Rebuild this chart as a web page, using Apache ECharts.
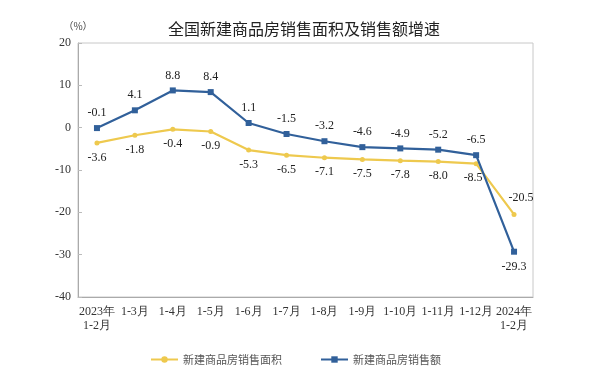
<!DOCTYPE html>
<html><head><meta charset="utf-8">
<script src="https://cdn.jsdelivr.net/npm/echarts@6/dist/echarts.min.js"></script>
<style>html,body{margin:0;padding:0;background:#fff}#c{width:608px;height:371px}</style>
</head><body><div id="c"></div>
<script>
const categories = ['2023年\n1-2月','1-3月','1-4月','1-5月','1-6月','1-7月','1-8月','1-9月','1-10月','1-11月','1-12月','2024年\n1-2月'];
const areaGrowth = [-3.6, -1.8, -0.4, -0.9, -5.3, -6.5, -7.1, -7.5, -7.8, -8.0, -8.5, -20.5];
const salesGrowth = [-0.1, 4.1, 8.8, 8.4, 1.1, -1.5, -3.2, -4.6, -4.9, -5.2, -6.5, -29.3];
const yTicks = [-40, -30, -20, -10, 0, 10, 20];
const seriesNames = ['新建商品房销售面积', '新建商品房销售额'];

const serif = 'Liberation Serif, Times New Roman, serif';
const cjk = 'Noto Sans CJK SC';
const chart = echarts.init(document.getElementById('c'));
const lastIdx = areaGrowth.length - 1;
chart.setOption({
  animation: false,
  title: {
    text: '全国新建商品房销售面积及销售额增速',
    left: 'center', top: 16,
    textStyle: { fontFamily: cjk, fontSize: 16, fontWeight: 'normal', color: '#222' }
  },
  legend: {
    left: 145, top: 349,
    itemWidth: 27, itemHeight: 8, itemGap: 38,
    textStyle: { fontFamily: cjk, fontSize: 11, color: '#555' },
    data: seriesNames
  },
  grid: { left: 78, right: 75, top: 43, bottom: 74, show: true, borderColor: '#c8c8c8', borderWidth: 1 },
  xAxis: {
    type: 'category', data: categories, boundaryGap: true,
    axisLine: { onZero: false, lineStyle: { color: '#aaa' } },
    axisTick: { inside: true, length: 4, lineStyle: { color: '#bbb' } },
    axisLabel: { fontFamily: serif, fontSize: 12, color: '#333', margin: 8, lineHeight: 14, interval: 0 }
  },
  yAxis: {
    type: 'value', min: yTicks[0], max: yTicks[yTicks.length - 1], interval: 10,
    name: '（%）', nameLocation: 'end', nameGap: 12,
    nameTextStyle: { fontFamily: cjk, fontSize: 10, color: '#444', align: 'center' },
    splitLine: { show: false },
    axisLine: { show: true, lineStyle: { color: '#aaa' } },
    axisTick: { show: true, inside: true, length: 4, lineStyle: { color: '#bbb' } },
    axisLabel: { fontFamily: serif, fontSize: 12, color: '#333', margin: 7 }
  },
  series: [
    {
      name: seriesNames[0], type: 'line', data: areaGrowth.map((v, i) => i === lastIdx ? {
        value: v, label: { position: 'top', offset: [7, -2] } } : (i === lastIdx - 1 ? {
        value: v, label: { offset: [-3, 0] } } : v)),
      color: '#eec94e', symbol: 'circle', symbolSize: 5, showAllSymbol: true,
      lineStyle: { width: 2.2, color: '#eec94e' },
      itemStyle: { color: '#eec94e' },
      label: { show: true, position: 'bottom', distance: 6, fontFamily: serif, fontSize: 12, color: '#222',
        formatter: p => p.value.toFixed(1) },
      z: 2
    },
    {
      name: seriesNames[1], type: 'line', data: salesGrowth.map((v, i) => i === lastIdx ? {
        value: v, label: { position: 'bottom' } } : v),
      color: '#31609a', symbol: 'rect', symbolSize: 6, showAllSymbol: true,
      lineStyle: { width: 2.2, color: '#31609a' },
      itemStyle: { color: '#31609a' },
      label: { show: true, position: 'top', distance: 6, fontFamily: serif, fontSize: 12, color: '#222',
        formatter: p => p.value.toFixed(1) },
      z: 3
    }
  ]
});
</script></body></html>
